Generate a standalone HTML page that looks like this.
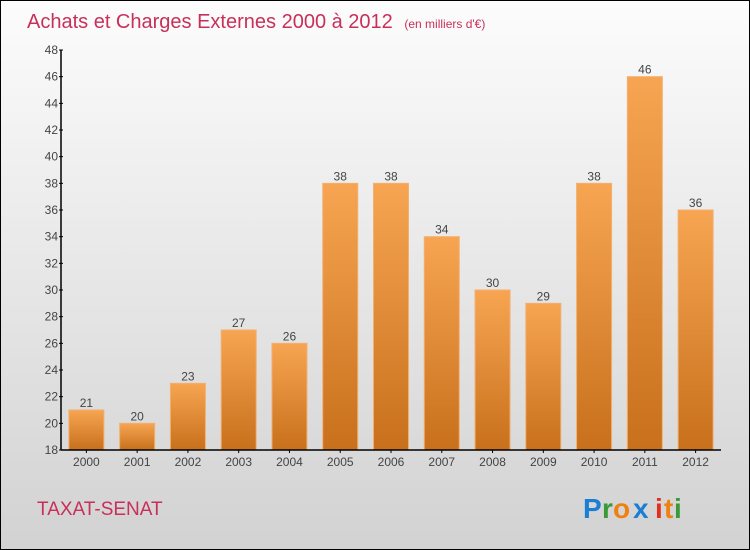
<!DOCTYPE html>
<html><head><meta charset="utf-8"><style>
body{margin:0;}
#c{position:relative;width:748px;height:548px;border:1px solid #000;background:linear-gradient(#fcfcfc,#d2d2d2);font-family:"Liberation Sans",sans-serif;overflow:hidden}
</style></head><body>
<div id="c">
<svg width="748" height="548">
<defs><linearGradient id="bg" x1="0" y1="0" x2="0" y2="1"><stop offset="0" stop-color="#f7a552"/><stop offset="1" stop-color="#c8701c"/></linearGradient></defs>
<text x="26" y="27" font-size="20" fill="#c8305a">Achats et Charges Externes 2000 à 2012 <tspan font-size="12" dx="6">(en milliers d'€)</tspan></text>
<g id="bars"></g>
<g id="axes"></g>
<text x="36" y="514" font-size="19" fill="#c8305a">TAXAT-SENAT</text>
<g font-size="28" font-weight="bold" font-family="'Liberation Sans',sans-serif">
<text x="582" y="517" fill="#1a7fd4">P</text><text x="601" y="517" fill="#3a9a3a">r</text><text x="612" y="517" fill="#f08010">o</text><text x="632" y="517" fill="#1a7fd4">x</text><text x="654" y="517" fill="#e03020">i</text><text x="663" y="517" fill="#f08010">t</text><text x="673" y="517" fill="#3a9a3a">i</text>
</g>
</svg>
</div>
<script>
const years=["2000","2001","2002","2003","2004","2005","2006","2007","2008","2009","2010","2011","2012"];
const values=[21,20,23,27,26,38,38,34,30,29,38,46,36];
const yTicks=[18,20,22,24,26,28,30,32,34,36,38,40,42,44,46,48];
const NS="http://www.w3.org/2000/svg";
const x0=60,x1=720,yTop=49,yBot=449,vMin=18,vMax=48;
const band=(x1-x0)/years.length;
function y(v){return yBot-(v-vMin)/(vMax-vMin)*(yBot-yTop);}
function xc(i){return x0+band*(i+0.5);}
function mk(t,a,p){const e=document.createElementNS(NS,t);for(const k in a)e.setAttribute(k,a[k]);p.appendChild(e);return e;}
const bars=document.getElementById('bars'),axes=document.getElementById('axes');
values.forEach((v,i)=>{
 const r=mk('rect',{x:xc(i)-17.5,y:y(v),width:35,height:yBot-y(v),fill:'url(#bg)',stroke:'#f2b070','stroke-width':1},bars);
 
 
 const t=mk('text',{x:xc(i),y:y(v)-3,'text-anchor':'middle','font-size':12,fill:'#444'},bars);
 t.textContent=v;
 
 
 const l=mk('text',{x:xc(i),y:yBot+16,'text-anchor':'middle','font-size':12,fill:'#444'},axes);
 l.textContent=years[i];
 
 
 mk('line',{x1:xc(i),x2:xc(i),y1:yBot,y2:yBot+3,stroke:'#000'},axes);
});
const ya=mk('line',{x1:x0,x2:x0,y1:yTop,y2:yBot,stroke:'#000','stroke-width':1.5},axes);


const xa=mk('line',{x1:x0,x2:x1,y1:yBot,y2:yBot,stroke:'#000','stroke-width':1.5},axes);


yTicks.forEach(v=>{
 mk('line',{x1:x0-2,x2:x0+2,y1:y(v),y2:y(v),stroke:'#000'},axes);
 const t=mk('text',{x:x0-3,y:y(v)+4,'text-anchor':'end','font-size':12,fill:'#444'},axes);
 t.textContent=v;
 
 
});
</script>
</body></html>
